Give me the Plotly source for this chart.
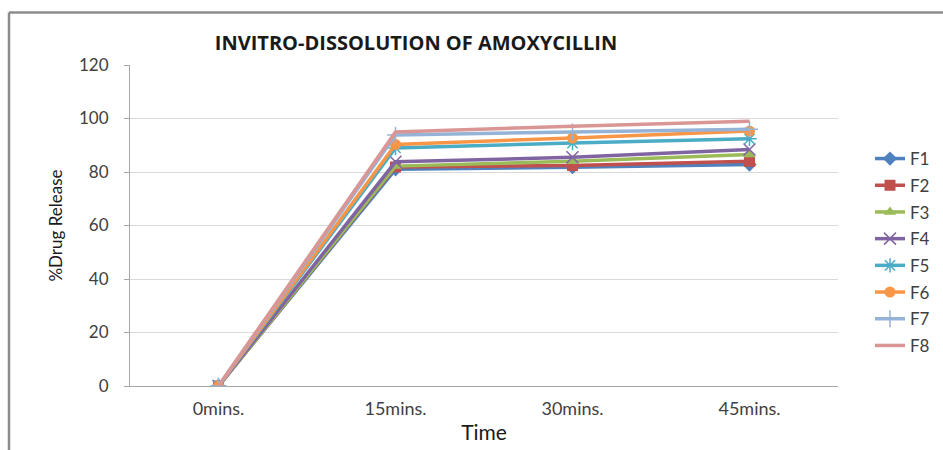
import plotly.graph_objects as go

times = ["0mins.", "15mins.", "30mins.", "45mins."]
series_names = ["F1", "F2", "F3", "F4", "F5", "F6", "F7", "F8"]
F1 = [0, 81.0, 81.8, 82.8]
F2 = [0, 81.9, 82.4, 84.0]
F3 = [0, 82.2, 84.0, 86.5]
F4 = [0, 83.8, 85.5, 88.4]
F5 = [0, 89.0, 90.8, 92.4]
F6 = [0, 90.3, 92.7, 95.3]
F7 = [0, 93.8, 95.0, 96.0]
F8 = [0, 95.0, 97.1, 99.0]
values = [F1, F2, F3, F4, F5, F6, F7, F8]

colors = ["#4F81BD", "#C0504D", "#9BBB59", "#8064A2", "#4BACC6", "#F79646", "#95B3D7", "#D99694"]
symbols = ["diamond", "square", "triangle-up", "x-thin", "asterisk", "circle", "cross-thin", None]

FONT = "Lato, Open Sans, sans-serif"

fig = go.Figure()
for i, (name, vals) in enumerate(zip(series_names, values)):
    sym = symbols[i]
    if sym is None:
        fig.add_trace(go.Scatter(x=times, y=vals, name=name, mode="lines",
                                 line=dict(color=colors[i], width=3.5),
                                 legendgroup=name))
    else:
        thin = sym in ("x-thin", "asterisk", "cross-thin")
        fig.add_trace(go.Scatter(
            x=times, y=vals, name=name, mode="lines+markers",
            line=dict(color=colors[i], width=3.5),
            marker=dict(symbol=sym, size=12 if thin else 11, color=colors[i],
                        line=dict(color=colors[i], width=1.5 if thin else 0)),
            legendgroup=name))

# plot area: x 130..838, y 65..386
L, R, T, B = 130, 105, 65, 64
W, H = 943 - L - R, 450 - T - B

def px_x(p):
    return (p - L) / W

def px_y(p):
    return (450 - B - p) / H

border_x = px_x(9)
border_y = px_y(12.5)
fig.add_shape(type="line", xref="paper", yref="paper",
              x0=border_x, x1=border_x, y0=border_y, y1=px_y(460),
              line=dict(color="#8c8c8c", width=2.5))
fig.add_shape(type="line", xref="paper", yref="paper",
              x0=border_x, x1=px_x(960), y0=border_y, y1=border_y,
              line=dict(color="#8c8c8c", width=2.5))

fig.update_layout(
    width=943, height=450,
    margin=dict(l=L, r=R, t=T, b=B, autoexpand=False),
    paper_bgcolor="white", plot_bgcolor="white",
    font=dict(family=FONT, color="#404040", size=16),
    title=dict(text="<b>INVITRO-DISSOLUTION OF AMOXYCILLIN</b>",
               x=416 / 943, xanchor="center", xref="container",
               y=1 - 43 / 450, yref="container", yanchor="middle",
               font=dict(family="Open Sans, sans-serif", size=20, color="#1a1a1a")),
    showlegend=True,
    legend=dict(x=px_x(870), xanchor="left", y=px_y(141), yanchor="top",
                font=dict(family=FONT, size=17, color="#404040"),
                tracegroupgap=1.6, itemwidth=30, bgcolor="rgba(0,0,0,0)"),
    xaxis=dict(type="category", range=[-0.5, 3.5], automargin=False,
               showline=True, linecolor="#a6a6a6", linewidth=1,
               showgrid=False, ticks="", ticklabelstandoff=6,
               tickfont=dict(family=FONT, size=18, color="#404040"),
               title=dict(text="Time", font=dict(family=FONT, size=21, color="#1a1a1a"), standoff=7)),
    yaxis=dict(range=[0, 120], dtick=20, tick0=0, automargin=False,
               showline=True, linecolor="#a6a6a6", linewidth=1,
               showgrid=True, gridcolor="#d9d9d9", gridwidth=1,
               ticks="outside", ticklen=5, tickcolor="#a6a6a6",
               zeroline=False, ticklabelstandoff=12,
               tickfont=dict(family=FONT, size=17, color="#404040"),
               title=dict(text="%Drug Release", font=dict(family=FONT, size=17, color="#1a1a1a"), standoff=12)),
)

fig.write_html("out.html")
